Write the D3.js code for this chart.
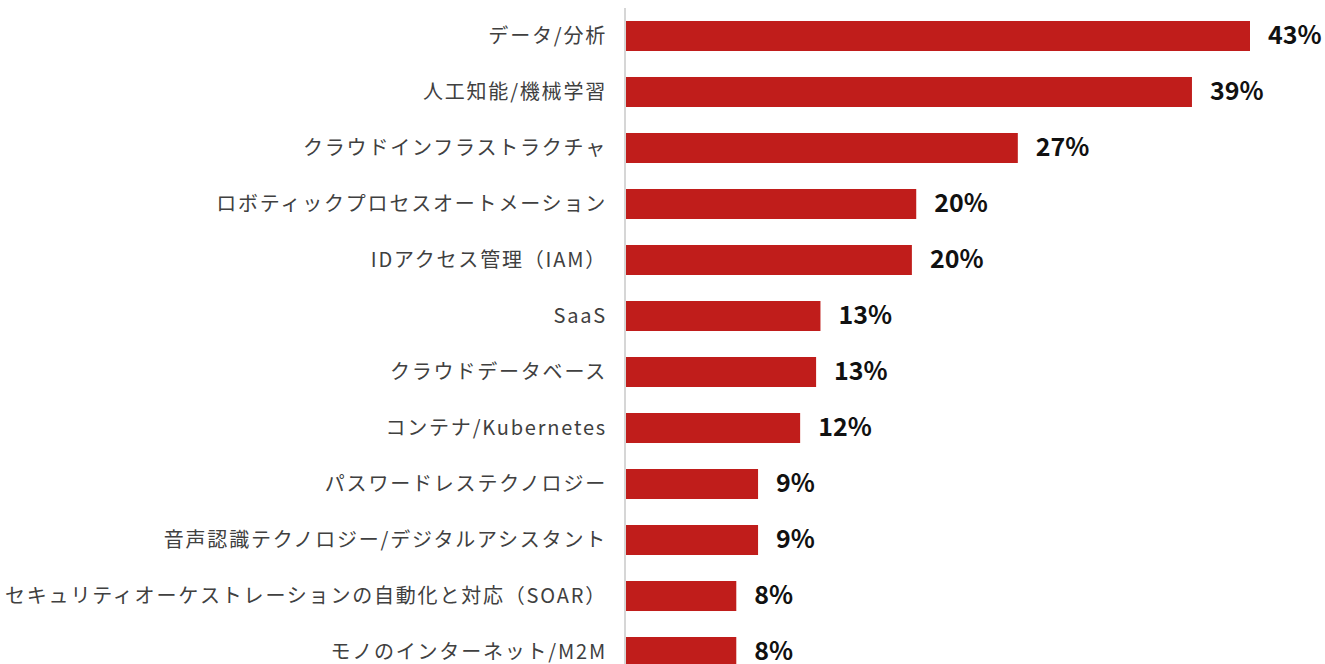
<!DOCTYPE html>
<html>
<head>
<meta charset="utf-8">
<script src="https://cdn.jsdelivr.net/npm/d3@7"></script>
<style>
  body { margin: 0; background: #fff; overflow: hidden; }
  text { font-family: "Noto Sans CJK JP", "Noto Sans", sans-serif; }
</style>
</head>
<body>
<div id="chart"></div>
<script>
// categories, top to bottom
var categories = [
  "データ/分析",
  "人工知能/機械学習",
  "クラウドインフラストラクチャ",
  "ロボティックプロセスオートメーション",
  "IDアクセス管理（IAM）",
  "SaaS",
  "クラウドデータベース",
  "コンテナ/Kubernetes",
  "パスワードレステクノロジー",
  "音声認識テクノロジー/デジタルアシスタント",
  "セキュリティオーケストレーションの自動化と対応（SOAR）",
  "モノのインターネット/M2M"
];
// bar lengths (%)
var values = [43, 39, 27, 20, 19.7, 13.4, 13.1, 12, 9.1, 9.1, 7.6, 7.6];
// printed labels
var valueLabels = ["43%", "39%", "27%", "20%", "20%", "13%", "13%", "12%", "9%", "9%", "8%", "8%"];

var width = 1325, height = 664;

var svg = d3.select("#chart")
  .append("svg")
  .attr("width", width)
  .attr("height", height);

var x = d3.scaleLinear()
  .domain([0, 43])
  .range([626, 1250]);

var y = d3.scaleBand()
  .domain(categories)
  .range([8, 680])
  .paddingInner(26 / 56)
  .paddingOuter(0.232);

// bars
svg.selectAll(".bar")
  .data(categories)
  .enter()
  .append("rect")
  .attr("class", "bar")
  .attr("x", x(0))
  .attr("y", d => y(d))
  .attr("width", (d, i) => x(values[i]) - x(0))
  .attr("height", y.bandwidth())
  .attr("fill", "#c01d1b");

// axis line
svg.append("line")
  .attr("x1", 625).attr("x2", 625)
  .attr("y1", 8).attr("y2", height)
  .attr("stroke", "#d6d6d6")
  .attr("stroke-width", 2);

// category labels
svg.selectAll(".cat")
  .data(categories)
  .enter()
  .append("text")
  .attr("class", "cat")
  .attr("x", 607)
  .attr("y", d => y(d) + y.bandwidth() / 2)
  .attr("dy", "0.35em")
  .attr("text-anchor", "end")
  .attr("font-size", 20)
  .attr("letter-spacing", "1.8px")
  .attr("fill", "#404040")
  .text(d => d);

// value labels
svg.selectAll(".val")
  .data(categories)
  .enter()
  .append("text")
  .attr("class", "val")
  .attr("x", (d, i) => x(values[i]) + 18)
  .attr("y", d => y(d) + y.bandwidth() / 2)
  .attr("dy", "0.33em")
  .attr("font-size", 25)
  .attr("font-weight", "bold")
  .attr("fill", "#111")
  .text((d, i) => valueLabels[i]);
</script>
</body>
</html>
